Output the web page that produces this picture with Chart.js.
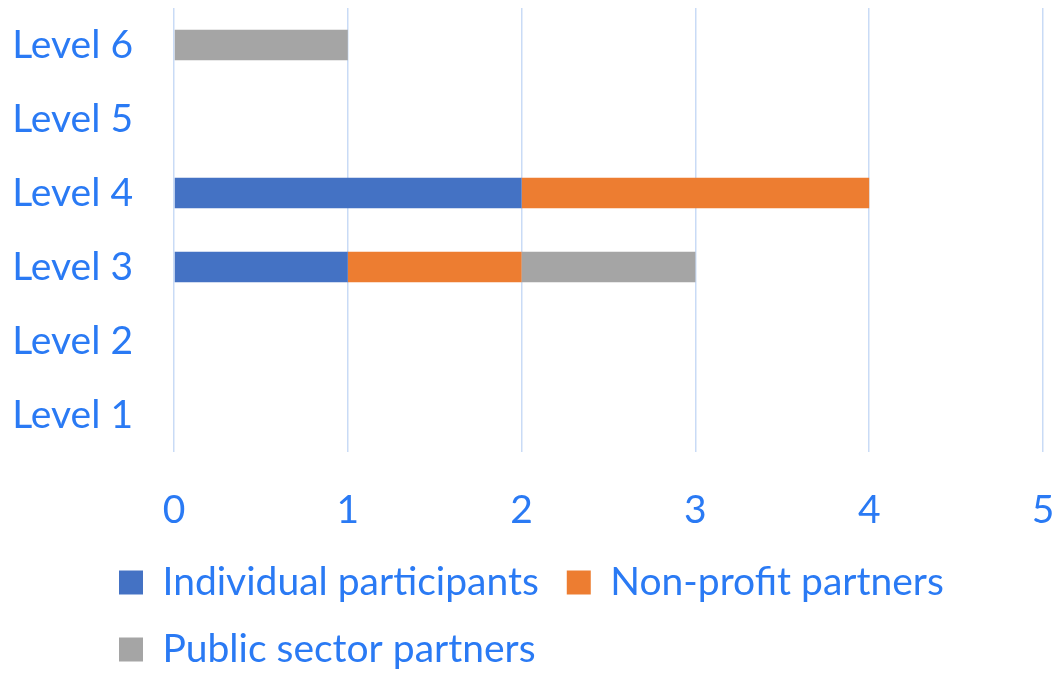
<!DOCTYPE html>
<html>
<head>
<meta charset="utf-8">
<script src="https://cdn.jsdelivr.net/npm/chart.js@4"></script>
<style>
  html, body { margin: 0; padding: 0; background: #fff; }
  #wrap { width: 1054px; height: 673px; }
</style>
</head>
<body>
<div id="wrap"><canvas id="c" width="1054" height="673"></canvas></div>
<script>
const categories = ["Level 1", "Level 2", "Level 3", "Level 4", "Level 5", "Level 6"];
const individualParticipants = [0, 0, 1, 2, 0, 0];
const nonProfitPartners = [0, 0, 1, 2, 0, 0];
const publicSectorPartners = [0, 0, 1, 0, 0, 1];
const xTicks = [0, 1, 2, 3, 4, 5];

const textColor = "#2a7af4";
const fontFamily = "Lato, 'Liberation Sans', sans-serif";
const fontSize = 39;

// Shift the legend so its rows start where the reference's do.
const legendShift = {
  id: "legendShift",
  afterLayout(chart) {
    if (chart.legend) { chart.legend.left = 91; }
  }
};

new Chart(document.getElementById("c"), {
  type: "bar",
  data: {
    labels: categories,
    datasets: [
      { label: "Individual participants", data: individualParticipants, backgroundColor: "#4472C4" },
      { label: "Non-profit partners", data: nonProfitPartners, backgroundColor: "#ED7D31" },
      { label: "Public sector partners", data: publicSectorPartners, backgroundColor: "#A5A5A5" }
    ]
  },
  plugins: [legendShift],
  options: {
    indexAxis: "y",
    responsive: false,
    animation: false,
    devicePixelRatio: 1,
    categoryPercentage: 0.41,
    barPercentage: 1,
    layout: { padding: { left: 10, right: 11, top: 8, bottom: -6 } },
    scales: {
      x: {
        stacked: true,
        min: 0,
        max: 5,
        afterBuildTicks(scale) { scale.ticks = xTicks.map(v => ({ value: v })); },
        afterFit(scale) { scale.height = 83; scale.paddingLeft = 0; scale.paddingRight = 11; },
        grid: { color: "#c9dbf6", lineWidth: 1.5, drawTicks: false },
        border: { display: false },
        ticks: { color: textColor, font: { family: fontFamily, size: fontSize }, padding: 35 }
      },
      y: {
        stacked: true,
        reverse: true,
        afterFit(scale) { scale.width = 164; scale.paddingTop = 0; scale.paddingBottom = 0; },
        grid: { display: false, drawTicks: false },
        border: { display: false },
        ticks: { color: textColor, font: { family: fontFamily, size: fontSize }, padding: 41 }
      }
    },
    plugins: {
      tooltip: { enabled: false },
      legend: {
        position: "bottom",
        align: "start",
        labels: {
          color: textColor,
          font: { family: fontFamily, size: fontSize },
          boxWidth: 24,
          boxHeight: 24,
          padding: 28
        }
      }
    }
  }
});
</script>
</body>
</html>
